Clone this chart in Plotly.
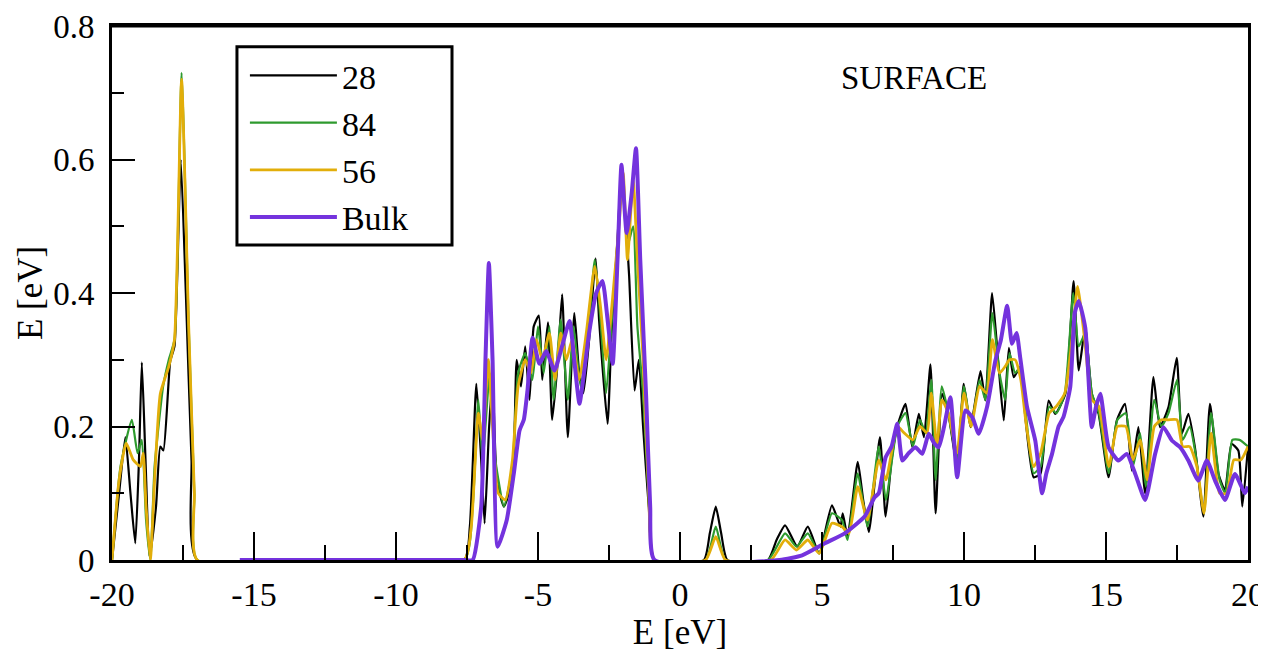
import plotly.graph_objects as go

# ---------------- data ----------------
e_28 = [-20, -19.75, -19.53, -19.35, -19.18, -19.05, -18.95, -18.82, -18.68, -18.45, -18.3, -18.19,
        -17.95, -17.8, -17.58, -17.4, -17.2, -17.0, -7.6, -7.4, -7.17, -7.0, -6.88, -6.72, -6.6,
        -6.45, -6.2, -5.9, -5.75, -5.6, -5.45, -5.3, -5.15, -4.97, -4.85, -4.65, -4.5, -4.3, -4.15,
        -3.95, -3.72, -3.55, -3.4, -3.2, -2.97, -2.85, -2.73, -2.55, -2.4, -2.2, -2.06, -1.9, -1.79,
        -1.6, -1.45, -1.3, -1.1, -0.9, 0.84, 1.05, 1.26, 1.45, 1.67, 3.1, 3.4, 3.7, 4.13, 4.5, 4.9,
        5.35, 5.65, 5.73, 5.9, 6.26, 6.45, 6.65, 7.04, 7.24, 7.45, 7.65, 7.94, 8.18, 8.41, 8.59,
        8.82, 9.0, 9.23, 9.47, 9.76, 9.99, 10.23, 10.58, 10.75, 10.99, 11.2, 11.4, 11.58, 11.75,
        11.98, 12.16, 12.45, 12.69, 12.98, 13.21, 13.57, 13.86, 14.04, 14.27, 14.5, 14.74, 15.09,
        15.38, 15.67, 15.91, 16.14, 16.38, 16.67, 16.9, 17.2, 17.49, 17.67, 17.9, 18.13, 18.43,
        18.66, 18.96, 19.19, 19.42, 19.66, 19.8, 20]
dos_28 = [0, 0.1, 0.184, 0.1, 0.025, 0.15, 0.296, 0.15, 0.005, 0.08, 0.17, 0.164,
          0.298, 0.32, 0.60, 0.4, 0.15, 0.0, 0, 0.05, 0.264, 0.15, 0.055, 0.2, 0.27,
          0.12, 0.08, 0.12, 0.3, 0.26, 0.32, 0.24, 0.35, 0.366, 0.27, 0.356, 0.21, 0.3, 0.398,
          0.184, 0.37, 0.28, 0.25, 0.33, 0.452, 0.36, 0.29, 0.204, 0.35, 0.48, 0.585, 0.5, 0.425,
          0.254, 0.3, 0.2, 0.08, 0.0, 0, 0.04, 0.08, 0.04, 0, 0, 0.03, 0.052, 0.02, 0.05, 0.01,
          0.082, 0.05, 0.07, 0.035, 0.147, 0.09, 0.042, 0.184, 0.065, 0.15, 0.2, 0.234, 0.169, 0.219, 0.184,
          0.293, 0.07, 0.249, 0.214, 0.139, 0.264, 0.199, 0.283, 0.239, 0.4, 0.3, 0.209, 0.318, 0.274,
          0.289, 0.214, 0.124, 0.129, 0.239, 0.219, 0.249, 0.418, 0.284, 0.348, 0.249, 0.219, 0.124,
          0.209, 0.234, 0.134, 0.199, 0.1, 0.274, 0.199, 0.229, 0.303, 0.189, 0.219, 0.169, 0.065,
          0.234, 0.129, 0.104, 0.174, 0.164, 0.08, 0.17]

e_84 = [-20, -19.7, -19.3, -19.1, -18.95, -18.8, -18.65, -18.5, -18.2, -18.0, -17.8, -17.55, -17.3,
        -17.1, -17.0, -7.6, -7.3, -7.1, -6.95, -6.7, -6.5, -6.2, -5.9, -5.7, -5.45, -5.2, -5.0, -4.8,
        -4.6, -4.45, -4.2, -3.95, -3.75, -3.5, -3.25, -3.0, -2.8, -2.6, -2.4, -2.15, -2.05, -1.85,
        -1.65, -1.5, -1.3, -1.1, -0.9, 0.9, 1.26, 1.6, 3.1, 3.7, 4.1, 4.5, 4.9, 5.35, 5.7, 5.9, 6.26,
        6.6, 7.0, 7.25, 7.65, 7.94, 8.2, 8.45, 8.65, 8.85, 9.0, 9.22, 9.45, 9.75, 10.0, 10.25, 10.55,
        10.75, 11.0, 11.25, 11.45, 11.6, 11.8, 12.0, 12.2, 12.45, 12.7, 13.0, 13.25, 13.55, 13.85,
        14.04, 14.27, 14.5, 14.75, 15.1, 15.4, 15.7, 15.95, 16.2, 16.4, 16.7, 16.95, 17.2, 17.5,
        17.7, 17.95, 18.15, 18.45, 18.7, 19.0, 19.2, 19.45, 19.7, 20]
dos_84 = [0, 0.14, 0.21, 0.16, 0.18, 0.06, 0.0, 0.14, 0.26, 0.3, 0.33, 0.73, 0.35,
          0.1, 0, 0, 0.08, 0.24, 0.15, 0.28, 0.15, 0.08, 0.14, 0.28, 0.31, 0.27, 0.35, 0.28,
          0.35, 0.24, 0.36, 0.24, 0.35, 0.26, 0.33, 0.45, 0.36, 0.25, 0.36, 0.5, 0.58, 0.47,
          0.5, 0.35, 0.25, 0.09, 0, 0, 0.05, 0, 0, 0.04, 0.02, 0.04, 0.01, 0.07, 0.06, 0.03, 0.13,
          0.05, 0.17, 0.09, 0.2, 0.22, 0.17, 0.21, 0.19, 0.27, 0.12, 0.26, 0.22, 0.15, 0.26, 0.2, 0.27,
          0.24, 0.37, 0.28, 0.24, 0.31, 0.28, 0.29, 0.21, 0.13, 0.14, 0.23, 0.22, 0.25, 0.4,
          0.32, 0.34, 0.25, 0.22, 0.13, 0.21, 0.22, 0.14, 0.19, 0.11, 0.24, 0.2, 0.22, 0.27,
          0.18, 0.2, 0.16, 0.07, 0.22, 0.12, 0.1, 0.18, 0.18, 0.17]

e_56 = [-20, -19.75, -19.5, -19.25, -19.0, -18.9, -18.8, -18.65, -18.5, -18.3, -18.0, -17.8, -17.55,
        -17.3, -17.1, -17.0, -7.6, -7.35, -7.1, -6.95, -6.75, -6.6, -6.4, -6.15, -5.9, -5.7, -5.45,
        -5.25, -5.05, -4.85, -4.6, -4.4, -4.2, -4.0, -3.8, -3.55, -3.3, -3.0, -2.8, -2.6, -2.4, -2.15,
        -2.0, -1.85, -1.65, -1.5, -1.3, -1.1, -0.9, 0.9, 1.26, 1.6, 3.2, 3.7, 4.1, 4.5, 4.9, 5.35, 5.7,
        5.95, 6.26, 6.6, 7.0, 7.25, 7.65, 7.9, 8.2, 8.45, 8.7, 8.85, 9.05, 9.22, 9.45, 9.75, 10.0,
        10.25, 10.55, 10.8, 11.0, 11.25, 11.45, 11.6, 11.8, 12.0, 12.2, 12.45, 12.7, 13.0, 13.25,
        13.55, 13.85, 14.0, 14.25, 14.5, 14.75, 15.1, 15.4, 15.7, 15.95, 16.2, 16.45, 16.7, 16.95,
        17.2, 17.5, 17.7, 17.95, 18.2, 18.45, 18.7, 19.0, 19.25, 19.5, 19.75, 20]
dos_56 = [0, 0.12, 0.175, 0.15, 0.14, 0.16, 0.08, 0.0, 0.12, 0.249, 0.29, 0.33, 0.72,
          0.35, 0.1, 0, 0, 0.05, 0.22, 0.18, 0.3, 0.2, 0.1, 0.09, 0.15, 0.26, 0.3,
          0.28, 0.33, 0.3, 0.34, 0.27, 0.34, 0.3, 0.33, 0.27, 0.34, 0.44, 0.38, 0.3, 0.38, 0.5,
          0.58, 0.45, 0.57, 0.45, 0.3, 0.1, 0, 0, 0.035, 0, 0, 0.03, 0.015, 0.03, 0.01, 0.055, 0.05,
          0.04, 0.11, 0.06, 0.15, 0.12, 0.2, 0.19, 0.18, 0.2, 0.19, 0.25, 0.17, 0.24, 0.22, 0.16, 0.25,
          0.2, 0.26, 0.25, 0.33, 0.28, 0.29, 0.3, 0.3, 0.27, 0.2, 0.14, 0.16, 0.22, 0.23,
          0.25, 0.35, 0.41, 0.33, 0.24, 0.23, 0.14, 0.2, 0.2, 0.15, 0.18, 0.12, 0.2, 0.21,
          0.21, 0.21, 0.17, 0.17, 0.14, 0.07, 0.19, 0.1, 0.1, 0.15, 0.15, 0.17]

e_bulk = [-15.5, -7.6, -7.3, -7.0, -6.85, -6.73, -6.6, -6.42, -6.1, -5.85, -5.65, -5.5, -5.37, -5.19,
          -4.95, -4.71, -4.42, -4.13, -3.89, -3.7, -3.54, -3.35, -3.19, -2.95, -2.73, -2.55, -2.37,
          -2.2, -2.06, -1.88, -1.7, -1.55, -1.4, -1.19, -1.05, -0.9, 3.5, 4.3, 5.1, 5.8, 6.5, 6.85,
          7.0, 7.24, 7.45, 7.65, 7.83, 8.05, 8.29, 8.53, 8.76, 8.95, 9.11, 9.3, 9.52, 9.76, 10.05,
          10.29, 10.52, 10.81, 11.1, 11.3, 11.52, 11.69, 11.85, 11.98, 12.22, 12.51, 12.75, 12.9,
          13.1, 13.33, 13.5, 13.74, 13.9, 14.04, 14.27, 14.5, 14.65, 14.8, 15.09, 15.44, 15.73, 16.03,
          16.38, 16.73, 17.02, 17.32, 17.61, 17.9, 18.25, 18.55, 18.84, 19.19, 19.54, 19.89, 20]
dos_bulk = [0, 0, 0.0, 0.08, 0.3, 0.445, 0.3, 0.02, 0.06, 0.13, 0.194, 0.21, 0.254, 0.333,
            0.294, 0.313, 0.284, 0.324, 0.358, 0.29, 0.234, 0.29, 0.343, 0.4, 0.418, 0.36, 0.294,
            0.45, 0.592, 0.49, 0.55, 0.617, 0.45, 0.243, 0.08, 0.0, 0.0, 0.007, 0.025, 0.04, 0.065, 0.094,
            0.10, 0.154, 0.17, 0.204, 0.149, 0.16, 0.169, 0.159, 0.189, 0.175, 0.169, 0.2, 0.244, 0.124, 0.224,
            0.214, 0.189, 0.229, 0.298, 0.33, 0.381, 0.324, 0.34, 0.303, 0.229, 0.179, 0.1, 0.13,
            0.159, 0.2, 0.214, 0.259, 0.37, 0.388, 0.348, 0.199, 0.23, 0.249, 0.169, 0.149, 0.159, 0.129,
            0.09, 0.159, 0.199, 0.179, 0.169, 0.149, 0.119, 0.149, 0.119, 0.09, 0.129, 0.1, 0.11]

x_ticks = [-20, -15, -10, -5, 0, 5, 10, 15, 20]
y_ticks = [0, 0.2, 0.4, 0.6, 0.8]
y_tick_text = ["0", "0.2", "0.4", "0.6", "0.8"]

series = [
    ("28", e_28, dos_28, "#000000", 2.2),
    ("84", e_84, dos_84, "#2e9a2e", 2.2),
    ("56", e_56, dos_56, "#e2ae0a", 2.8),
    ("Bulk", e_bulk, dos_bulk, "#7433dd", 4.0),
]

SERIF = "Liberation Serif"

fig = go.Figure()
for name, xs, ys, col, w in series:
    fig.add_trace(go.Scatter(
        x=xs, y=ys, mode="lines", name=name,
        line=dict(color=col, width=w, shape="spline", smoothing=0.5),
    ))

# page body adds an 8px offset, so the figure is sized 8px smaller
fig.update_layout(
    width=1258, height=650,
    margin=dict(l=104, r=18, t=18, b=98, autoexpand=False),
    paper_bgcolor="white", plot_bgcolor="white",
    font=dict(family=SERIF, color="black", size=34),
    showlegend=True,
    legend=dict(
        x=0.117, y=0.961, xanchor="left", yanchor="top",
        bgcolor="rgba(0,0,0,0)", borderwidth=0,
        font=dict(family=SERIF, size=34, color="black"),
        itemwidth=87, tracegroupgap=0,
    ),
    shapes=[
        dict(type="rect", xref="paper", yref="paper",
             x0=0.110, x1=0.2993, y0=0.5899, y1=0.961,
             line=dict(color="black", width=3), fillcolor="white", layer="above"),
        dict(type="line", xref="paper", yref="paper",
             x0=0, x1=1, y0=1, y1=1,
             line=dict(color="black", width=3), layer="above"),
    ],
    annotations=[dict(
        x=0.706, y=0.903, xref="paper", yref="paper",
        xanchor="center", yanchor="middle",
        text="SURFACE", showarrow=False,
        font=dict(family=SERIF, size=33, color="black"),
    )],
)

fig.update_xaxes(
    range=[-20, 20], tickvals=x_ticks, ticktext=[str(v) for v in x_ticks],
    ticks="inside", ticklen=28, tickwidth=2, tickcolor="black",
    minor=dict(ticks="inside", ticklen=15, tickwidth=2, tickcolor="black", dtick=2.5, tick0=0),
    showline=True, linecolor="black", linewidth=3, mirror=True,
    showgrid=False, zeroline=False, automargin=False,
    ticklabelstandoff=2, ticklabeloverflow="allow",
    tickfont=dict(family=SERIF, size=34),
    title=dict(text="E [eV]", font=dict(family=SERIF, size=35), standoff=4),
)
fig.update_yaxes(
    range=[0, 0.8], tickvals=y_ticks, ticktext=y_tick_text,
    ticks="inside", ticklen=23, tickwidth=2, tickcolor="black",
    minor=dict(ticks="inside", ticklen=12, tickwidth=2, tickcolor="black", dtick=0.1, tick0=0),
    showline=True, linecolor="black", linewidth=3, mirror=True,
    showgrid=False, zeroline=False, automargin=False,
    ticklabelstandoff=8, ticklabeloverflow="allow",
    tickfont=dict(family=SERIF, size=33),
    title=dict(text="E [eV]", font=dict(family=SERIF, size=35), standoff=0),
)

fig.write_html("out.html")
